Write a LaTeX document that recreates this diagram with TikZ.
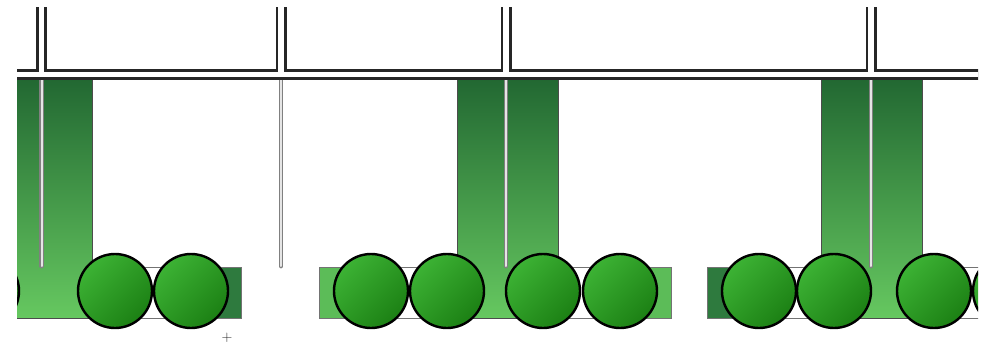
\documentclass[tikz,border=0pt]{standalone}
\definecolor{stemtop}{RGB}{34,104,50}
\definecolor{stembot}{RGB}{102,200,96}
\definecolor{capdark}{RGB}{46,122,62}
\definecolor{caplight}{RGB}{92,188,88}
\definecolor{beadlight}{RGB}{60,178,52}
\definecolor{beaddark}{RGB}{28,128,20}

\begin{document}
\begin{tikzpicture}[
  x=1pt, y=-1pt,
  stem/.style={draw=black!70, line width=0.8pt, top color=stemtop, bottom color=stembot},
  tray/.style={draw=black!55, fill=white, line width=0.9pt},
  trayend/.style={draw=black!55, line width=0.9pt},
  bead/.style={circle, draw=black, line width=2.4pt, minimum size=74pt, inner sep=0pt,
    top color=beadlight, bottom color=beaddark, shading angle=45},
  rodedge/.style={line width=4.8pt, line cap=round, black!50},
  rodcore/.style={line width=2pt, line cap=round, black!10}
]
  \useasboundingbox (0,0) rectangle (988,349);
  \begin{scope}
    \clip (17,0) rectangle (978,349);

    % trays under the beads, with coloured ends
    \draw[tray] (0,267) rectangle (241,318);
    \draw[tray] (319,267) rectangle (671,318);
    \draw[tray] (707,267) rectangle (1000,318);
    \draw[trayend, fill=capdark] (195,267) rectangle (241,318);
    \draw[trayend, fill=caplight] (319,267) rectangle (352,318);
    \draw[trayend, fill=caplight] (638,267) rectangle (671,318);
    \draw[trayend, fill=capdark] (707,267) rectangle (755,318);

    % hanging stems
    \shadedraw[stem] (0,79) rectangle (92,318);
    \shadedraw[stem] (457,79) rectangle (558,318);
    \shadedraw[stem] (821,79) rectangle (922,318);

    % thin rods
    \foreach \x in {41.5,281,506,871} {
      \draw[rodedge] (\x,78) -- (\x,266);
      \draw[rodcore] (\x,78) -- (\x,266);
    }

    % double pipe along the top
    \foreach \w/\c in {11/black!85, 5.6/white}
      \draw[line width=\w pt, \c]
        (0,74.3) -- (1000,74.3)
        (41.5,7) -- (41.5,74.3)
        (281,7) -- (281,74.3)
        (506,7) -- (506,74.3)
        (871,7) -- (871,74.3);

    % beads
    \foreach \x [count=\i] in {-18,115,191,371,447,543,620,759,834,934,1010}
      \node[bead] (b\i) at (\x,291) {};
  \end{scope}

  \node[font=\fontsize{15}{15}\selectfont, text=black!85] (plus) at (227,338) {+};
\end{tikzpicture}
\end{document}
